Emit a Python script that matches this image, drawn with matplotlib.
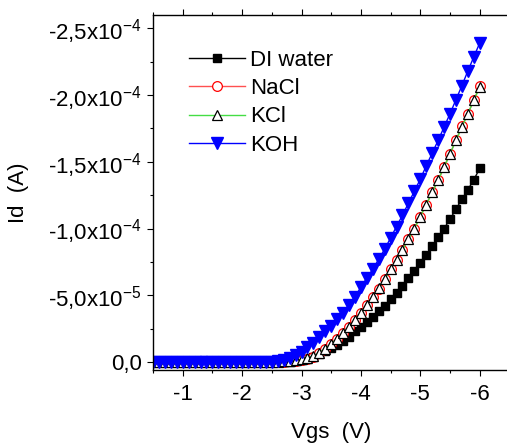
import numpy as np
import matplotlib
matplotlib.use('Agg')
import matplotlib.pyplot as plt
from matplotlib.ticker import MultipleLocator, FixedLocator, FixedFormatter

plt.rcParams['font.family'] = ['Liberation Sans', 'DejaVu Sans']
plt.rcParams['mathtext.fontset'] = 'custom'
plt.rcParams['mathtext.rm'] = 'Liberation Sans'

# Vgs sweep (V), 0.1 V steps from -0.5 to -6.0
vgs = np.round(np.arange(-0.5, -6.05, -0.1), 2)

# drain current in uA; -0.5 .. -2.4 V is ~0
flat = [0.0] * 20
di_water_ua = flat + [0, 0, 0, -0.1, -0.5, -1.3, -2.5, -4, -6, -8, -10.5, -13,
                      -16, -19, -23, -26, -30, -34, -38, -42, -47, -52, -57,
                      -63, -68.5, -74, -80, -87, -93.5, -100, -107, -114.5,
                      -122, -129, -136.5, -145]
nacl_ua = flat + [0, -0.1, -0.3, -0.6, -1.0, -1.6, -2.6, -4.0, -6.5, -9.5,
                  -13.5, -17, -21.5, -26.5, -31.5, -37, -43, -49, -55, -62,
                  -69.5, -76.5, -84, -92, -100, -109, -118, -127, -136, -146,
                  -156, -166, -176.5, -186, -196, -206.5]
kcl_ua = flat + [0, -0.1, -0.4, -0.8, -1.3, -2.0, -3.1, -4.6, -7.0, -10,
                 -13.8, -17.5, -22, -26.5, -31.5, -37, -43, -49, -55.5, -62,
                 -69.5, -76.5, -84, -92, -100, -109, -118, -127, -136.5, -146,
                 -156, -166, -176, -186, -196, -206]
koh_ua = flat + [-0.1, -0.5, -1.5, -3.0, -5.0, -7.7, -11, -14.5, -18.5, -23,
                 -27, -32, -37, -43, -49, -56, -63, -69.5, -77, -84.5, -93,
                 -101.5, -110, -119, -128, -137, -147, -156.5, -166, -176,
                 -186, -196.5, -207, -218, -228.5, -239]

x_ticks = [-1, -2, -3, -4, -5, -6]
x_labels = ['-1', '-2', '-3', '-4', '-5', '-6']
y_ticks = [0, -5e-5, -1e-4, -1.5e-4, -2e-4, -2.5e-4]
y_labels = ['0,0',
            r'-5,0x10$^{\mathregular{-5}}$',
            r'-1,0x10$^{\mathregular{-4}}$',
            r'-1,5x10$^{\mathregular{-4}}$',
            r'-2,0x10$^{\mathregular{-4}}$',
            r'-2,5x10$^{\mathregular{-4}}$']

di_water = np.array(di_water_ua) * 1e-6
nacl = np.array(nacl_ua) * 1e-6
kcl = np.array(kcl_ua) * 1e-6
koh = np.array(koh_ua) * 1e-6

fig = plt.figure(figsize=(5.07, 4.43), dpi=100)
ax = fig.add_axes([153 / 507, 73 / 443, 356.4 / 507, 355 / 443])

ax.plot(vgs, di_water, color='black', lw=1, marker='s', ms=5.2,
        mfc='black', mec='black', label='DI water')
ax.plot(vgs, nacl, color='#ff5050', lw=1, marker='o', ms=7,
        mfc='white', mec='red', mew=0.9, label='NaCl')
ax.plot(vgs, kcl, color='#44dd44', lw=1, marker='^', ms=7,
        mfc='white', mec='black', mew=0.9, label='KCl')
ax.plot(vgs, koh, color='blue', lw=1, marker='v', ms=8,
        mfc='blue', mec='blue', label='KOH')

ax.set_xlim(-0.5, -6.5)
ax.set_ylim(6e-6, -2.6e-4)

ax.xaxis.set_major_locator(FixedLocator(x_ticks))
ax.xaxis.set_major_formatter(FixedFormatter(x_labels))
ax.xaxis.set_minor_locator(MultipleLocator(0.5))
ax.yaxis.set_major_locator(FixedLocator(y_ticks))
ax.yaxis.set_major_formatter(FixedFormatter(y_labels))
ax.yaxis.set_minor_locator(MultipleLocator(2.5e-5))

ax.tick_params(which='both', direction='out', labelsize=16, width=0.8,
               top=True, right=True)
ax.tick_params(which='major', length=4, pad=4)
ax.tick_params(axis='x', which='major', pad=6)
ax.tick_params(which='minor', length=2.5)
for s in ax.spines.values():
    s.set_linewidth(1.0)

ax.set_xlabel('Vgs  (V)', fontsize=16, labelpad=12)
ax.set_ylabel('Id  (A)', fontsize=16, labelpad=14)

ax.legend(loc='upper left', bbox_to_anchor=(0.101, 0.902), frameon=False,
          fontsize=16, handlelength=2.5, handletextpad=0.25,
          labelspacing=0.33, borderaxespad=0, borderpad=0)

fig.savefig('out.png', dpi=100)
